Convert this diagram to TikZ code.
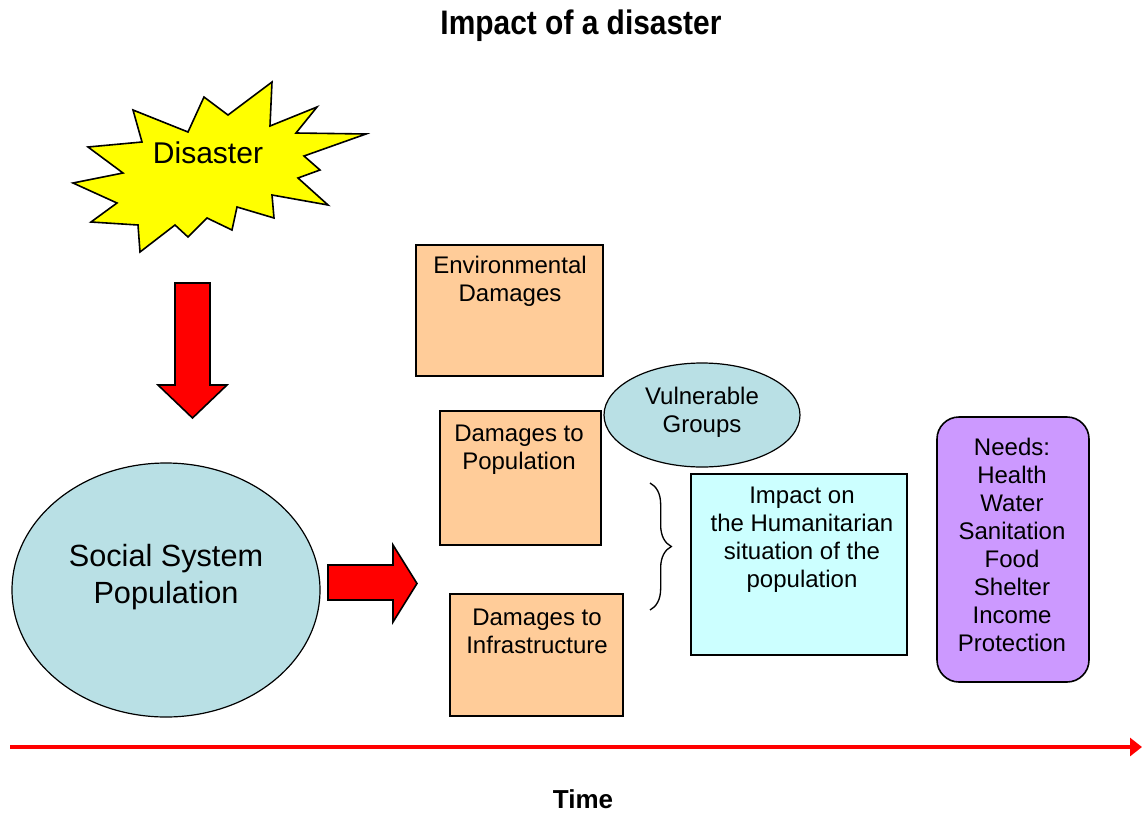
\documentclass[tikz,border=0pt]{standalone}
\usepackage{fontspec}
\setmainfont{Liberation Sans}
\usetikzlibrary{shapes.geometric,arrows.meta,decorations.pathreplacing}
\definecolor{peach}{HTML}{FFCC99}
\definecolor{paleblue}{HTML}{B9E0E5}
\definecolor{paleaqua}{HTML}{CCFFFF}
\definecolor{lilac}{HTML}{CC99FF}
\definecolor{alarm-red}{HTML}{FF0000}
\definecolor{alarm-yellow}{HTML}{FFFF00}
\newlength{\basisa}
\setlength{\basisa}{0.75pt}
\tikzset{
  damagebox/.style={draw, fill=peach, line width=1.2pt, inner sep=0pt},
  boxtext/.style={align=center, inner sep=0pt, font=\fontsize{18}{21}\selectfont},
  blob/.style={ellipse, draw, fill=paleblue, line width=0.9pt, inner sep=0pt},
  blockarrow/.style={draw, fill=alarm-red, line width=1.2pt, line join=miter},
}

\begin{document}
\begin{tikzpicture}[x=\basisa, y=-\basisa]
    \useasboundingbox (0,0) rectangle (1142,814);

    \draw (581,26) 
		node[font=\bfseries\fontsize{25.5}{30}\selectfont, xscale=0.88] 
			(Title) {Impact of a disaster};

    % the burst
    \filldraw[fill=alarm-yellow, line width=1.2pt, line join=miter]
        (133,110) -- (188,132) -- (204,97) -- (228,115) -- (272,82) -- (270,126)
        -- (317,107) -- (296,133) -- (366,134) -- (304,156) -- (320,170) -- (298,178)
        -- (328,205) -- (272,195) -- (274,218) -- (237,207) -- (232,230) -- (207,218)
        -- (188,237) -- (175,225) -- (140,252) -- (138,225) -- (91,222) -- (117,203)
        -- (73,183) -- (123,173) -- (88,147) -- (142,142) -- cycle;
    \draw (208,153) 
		node[font=\fontsize{22.5}{26}\selectfont] 
			(Disaster) {Disaster};

    % block arrows
    \draw[blockarrow] (175,283) -- (210,283) -- (210,385) -- (227,385)
        -- (192.5,418) -- (158,385) -- (175,385) -- cycle;
    \draw[blockarrow] (328,565) -- (393,565) -- (393,545) -- (417,583.5)
        -- (393,622) -- (393,600) -- (328,600) -- cycle;

    \draw (166,590) 
		node[blob, minimum width=308\basisa, minimum height=254\basisa] 
			(SocialSystem) {};
    \draw (166,577) 
		node[align=center, inner sep=0pt, font=\fontsize{23}{27.5}\selectfont] 
			(SocialSystemText) {Social System\\Population};

    \draw (509.5,310.5) 
		node[damagebox, minimum width=187\basisa, minimum height=131\basisa] 
			(EnvDamages) {};
    \draw (510,281) node[boxtext] (EnvDamagesText) {Environmental\\Damages};

    \draw (520.5,478) 
		node[damagebox, minimum width=161\basisa, minimum height=134\basisa] 
			(PopDamages) {};
    \draw (519,450) node[boxtext] (PopDamagesText) {Damages to\\Population};

    \draw (536.5,655) 
		node[damagebox, minimum width=173\basisa, minimum height=122\basisa] 
			(InfraDamages) {};
    \draw (537,631) node[boxtext] (InfraDamagesText) {Damages to\\Infrastructure};

    \draw (702,415) 
		node[blob, minimum width=196\basisa, minimum height=104\basisa] 
			(Vulnerable) {};
    \draw (702,412) node[boxtext] (VulnerableText) {Vulnerable\\Groups};

    \draw (799,564.5) 
		node[draw, fill=paleaqua, line width=1pt, minimum width=216\basisa, minimum height=181\basisa] 
			(Impact) {};
    \draw (802,540) node[boxtext] (ImpactText) {Impact on\\the Humanitarian\\situation of the\\population};

    \draw (1013,549.5) 
		node[draw, fill=lilac, line width=1.2pt, minimum width=152\basisa, minimum height=265\basisa, rounded corners=16.5pt] 
			(Needs) {};
    \draw (1012,545) node[boxtext] (NeedsText) {Needs:\\Health\\Water\\Sanitation\\Food\\Shelter\\Income\\Protection};

    % brace and time line
    \coordinate (BraceTop) at (650,483);
    \coordinate (BraceBottom) at (650,610);
    \draw[line width=1pt, decorate, decoration={brace, amplitude=16pt}] (BraceTop) -- (BraceBottom);

    \coordinate (TimeStart) at (10,747);
    \coordinate (TimeEnd) at (1142,747);
	\draw[alarm-red, line width=3pt, -{Triangle[length=9pt, width=13.5pt]}] (TimeStart) -- (TimeEnd);
    \draw (583,799) 
		node[font=\bfseries\fontsize{19.5}{24}\selectfont] 
			(Time) {Time};
\end{tikzpicture}
\end{document}
